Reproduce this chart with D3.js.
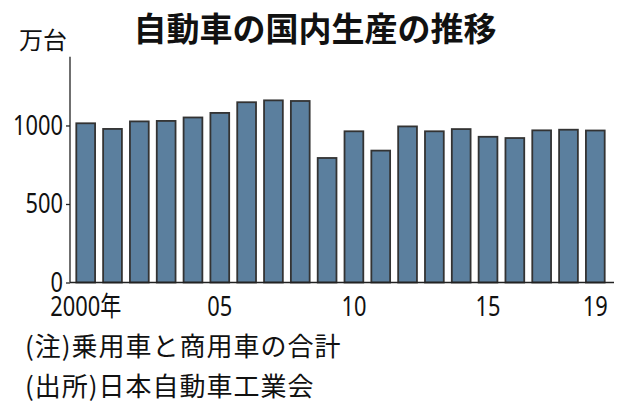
<!DOCTYPE html>
<html>
<head>
<meta charset="utf-8">
<script src="https://cdn.jsdelivr.net/npm/d3@7"></script>
<style>
  body { margin: 0; background: #fff; }
  svg { display: block; }
  .cjk { font-family: "Noto Sans CJK JP", "Noto Sans CJK SC", sans-serif; fill: #111; }
  .num { font-family: "Noto Sans", "DejaVu Sans", sans-serif; fill: #111; }
</style>
</head>
<body>
<div id="chart"></div>
<script>
// data (万台)
var years = [2000, 2001, 2002, 2003, 2004, 2005, 2006, 2007, 2008, 2009,
             2010, 2011, 2012, 2013, 2014, 2015, 2016, 2017, 2018, 2019];
var production = [1014, 978, 1026, 1029, 1051, 1080, 1148, 1160, 1156, 793,
                  963, 840, 994, 963, 977, 928, 920, 969, 973, 968];
var yTicks = [0, 500, 1000];
var xTickYears = [2000, 2005, 2010, 2015, 2019];
var xTickLabels = ["2000年", "05", "10", "15", "19"];

var svgWidth = 630;
var svgHeight = 412;
var squeeze = 0.78; // condensed look of the digits

var svg = d3.select("#chart")
    .append("svg")
    .attr("width", svgWidth)
    .attr("height", svgHeight);

svg.append("rect")
    .attr("width", svgWidth)
    .attr("height", svgHeight)
    .attr("fill", "#fff");

// plot area
var left = 70, right = 614, baseY = 282.5, topY = 56.7;

var x = d3.scaleBand()
    .domain(years)
    .range([left, 611])
    .paddingInner(0.3)
    .paddingOuter(0.235);

var y = d3.scaleLinear()
    .domain([0, 1438])
    .range([baseY, topY]);

// title
svg.append("text")
    .attr("class", "cjk")
    .attr("x", 315)
    .attr("y", 41)
    .attr("text-anchor", "middle")
    .attr("font-size", "33px")
    .attr("font-weight", 700)
    .text("自動車の国内生産の推移");

// unit
svg.append("text")
    .attr("class", "cjk")
    .attr("x", 19)
    .attr("y", 49)
    .attr("font-size", "24px")
    .text("万台");

// bars
svg.append("g")
    .selectAll("rect")
    .data(years)
    .enter()
    .append("rect")
    .attr("x", d => x(d))
    .attr("y", (d, i) => y(production[i]))
    .attr("width", x.bandwidth())
    .attr("height", (d, i) => baseY - y(production[i]))
    .attr("fill", "#5b7f9e")
    .attr("stroke", "#333")
    .attr("stroke-width", 1.8);

// y axis
var leftAxis = d3.axisLeft(y)
    .tickValues(yTicks)
    .tickSize(4)
    .tickPadding(3)
    .tickFormat(d3.format("d"));

var yAxis = svg.append("g")
    .attr("transform", `translate(${left}, 0)`)
    .call(leftAxis);
yAxis.select(".domain").remove();
yAxis.selectAll("line").attr("stroke", "#222").attr("stroke-width", 1.3);
yAxis.selectAll("text")
    .attr("class", "num")
    .attr("font-size", "28px")
    .attr("x", -7 / squeeze)
    .attr("transform", `scale(${squeeze},1)`);

svg.append("line")
    .attr("x1", left).attr("x2", left)
    .attr("y1", topY).attr("y2", baseY)
    .attr("stroke", "#222")
    .attr("stroke-width", 1.3);

// x axis
var bottomAxis = d3.axisBottom(x)
    .tickValues(xTickYears)
    .tickSize(0)
    .tickPadding(14)
    .tickFormat(d => xTickLabels[xTickYears.indexOf(d)]);

var xAxis = svg.append("g")
    .attr("transform", `translate(0, ${baseY})`)
    .call(bottomAxis);
xAxis.select(".domain").remove();
xAxis.selectAll("text")
    .attr("class", "num")
    .attr("font-size", "28px")
    .attr("transform", `scale(${squeeze},1)`);
xAxis.selectAll("text")
    .filter(d => d === 2000)
    .html("2000<tspan font-family='Noto Sans CJK JP' font-size='27px'>年</tspan>");

svg.append("line")
    .attr("x1", left).attr("x2", right)
    .attr("y1", baseY).attr("y2", baseY)
    .attr("stroke", "#222")
    .attr("stroke-width", 1.5);

// notes
var notes = ["(注)乗用車と商用車の合計", "(出所)日本自動車工業会"];
svg.selectAll(".note")
    .data(notes)
    .enter()
    .append("text")
    .attr("class", "cjk note")
    .attr("x", 25)
    .attr("y", (d, i) => 356 + i * 40)
    .attr("font-size", "26px")
    .attr("letter-spacing", "1px")
    .text(d => d);
</script>
</body>
</html>
